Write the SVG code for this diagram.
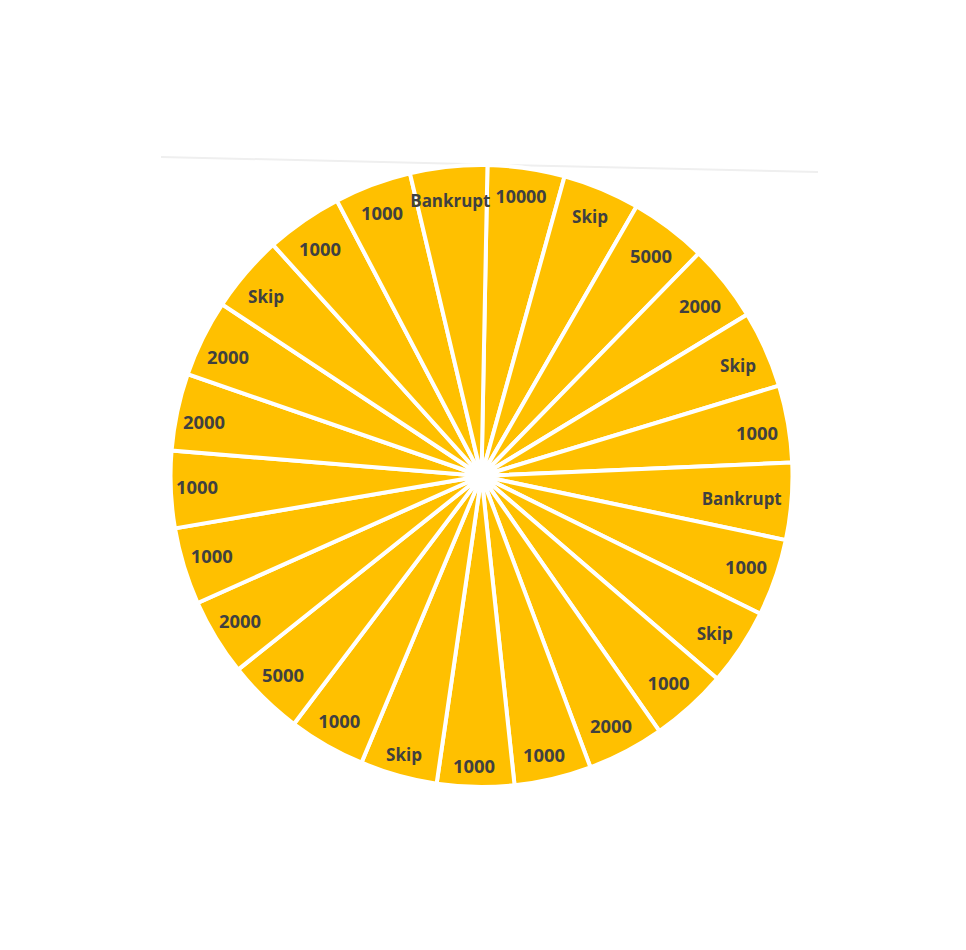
<svg xmlns="http://www.w3.org/2000/svg" width="966" height="950" viewBox="0 0 966 950">
<style>
.s{fill:#FFC000;stroke:#FFFFFF;stroke-width:4;stroke-linejoin:round}
.t{font-family:"Open Sans","Liberation Sans",sans-serif;font-weight:700;font-size:18px;fill:#404040;text-anchor:middle}
</style>
<rect width="966" height="950" fill="#FFFFFF"/>
<line x1="161" y1="157" x2="818" y2="172" stroke="#EFEFEF" stroke-width="2"/>
<g id="wheel">
<g id="slice0"><path class="s" d="M481.5 476 L487.47 165.06 A311 311 0 0 1 564.61 176.31 Z"/><text class="t" x="521" y="202.5" textLength="51" lengthAdjust="spacingAndGlyphs">10000</text></g>
<g id="slice1"><path class="s" d="M481.5 476 L564.61 176.31 A311 311 0 0 1 636.53 206.39 Z"/><text class="t" x="590" y="223.2" textLength="36" lengthAdjust="spacingAndGlyphs">Skip</text></g>
<g id="slice2"><path class="s" d="M481.5 476 L636.53 206.39 A311 311 0 0 1 698.72 253.43 Z"/><text class="t" x="651" y="262.5" textLength="42" lengthAdjust="spacingAndGlyphs">5000</text></g>
<g id="slice3"><path class="s" d="M481.5 476 L698.72 253.43 A311 311 0 0 1 747.22 314.43 Z"/><text class="t" x="700" y="313.2" textLength="42" lengthAdjust="spacingAndGlyphs">2000</text></g>
<g id="slice4"><path class="s" d="M481.5 476 L747.22 314.43 A311 311 0 0 1 779.07 385.59 Z"/><text class="t" x="738" y="372.2" textLength="36" lengthAdjust="spacingAndGlyphs">Skip</text></g>
<g id="slice5"><path class="s" d="M481.5 476 L779.07 385.59 A311 311 0 0 1 792.20 462.43 Z"/><text class="t" x="757" y="439.8" textLength="42" lengthAdjust="spacingAndGlyphs">1000</text></g>
<g id="slice6"><path class="s" d="M481.5 476 L792.20 462.43 A311 311 0 0 1 785.82 540.13 Z"/><text class="t" x="741.7" y="504.5" textLength="80" lengthAdjust="spacingAndGlyphs">Bankrupt</text></g>
<g id="slice7"><path class="s" d="M481.5 476 L785.82 540.13 A311 311 0 0 1 760.31 613.79 Z"/><text class="t" x="746" y="574.2" textLength="42" lengthAdjust="spacingAndGlyphs">1000</text></g>
<g id="slice8"><path class="s" d="M481.5 476 L760.31 613.79 A311 311 0 0 1 717.28 678.80 Z"/><text class="t" x="714.7" y="639.5" textLength="36" lengthAdjust="spacingAndGlyphs">Skip</text></g>
<g id="slice9"><path class="s" d="M481.5 476 L717.28 678.80 A311 311 0 0 1 659.44 731.07 Z"/><text class="t" x="668.5" y="689.5" textLength="42" lengthAdjust="spacingAndGlyphs">1000</text></g>
<g id="slice10"><path class="s" d="M481.5 476 L659.44 731.07 A311 311 0 0 1 590.42 767.30 Z"/><text class="t" x="611" y="733.2" textLength="42" lengthAdjust="spacingAndGlyphs">2000</text></g>
<g id="slice11"><path class="s" d="M481.5 476 L590.42 767.30 A311 311 0 0 1 514.55 785.24 Z"/><text class="t" x="544" y="761.5" textLength="42" lengthAdjust="spacingAndGlyphs">1000</text></g>
<g id="slice12"><path class="s" d="M481.5 476 L514.55 785.24 A311 311 0 0 1 436.60 783.74 Z"/><text class="t" x="474" y="773.2" textLength="42" lengthAdjust="spacingAndGlyphs">1000</text></g>
<g id="slice13"><path class="s" d="M481.5 476 L436.60 783.74 A311 311 0 0 1 361.48 762.70 Z"/><text class="t" x="404" y="760.5" textLength="36" lengthAdjust="spacingAndGlyphs">Skip</text></g>
<g id="slice14"><path class="s" d="M481.5 476 L361.48 762.70 A311 311 0 0 1 293.90 724.05 Z"/><text class="t" x="339.3" y="727.5" textLength="42" lengthAdjust="spacingAndGlyphs">1000</text></g>
<g id="slice15"><path class="s" d="M481.5 476 L293.90 724.05 A311 311 0 0 1 238.11 669.60 Z"/><text class="t" x="283" y="682.2" textLength="42" lengthAdjust="spacingAndGlyphs">5000</text></g>
<g id="slice16"><path class="s" d="M481.5 476 L238.11 669.60 A311 311 0 0 1 197.61 602.99 Z"/><text class="t" x="240" y="628.2" textLength="42" lengthAdjust="spacingAndGlyphs">2000</text></g>
<g id="slice17"><path class="s" d="M481.5 476 L197.61 602.99 A311 311 0 0 1 174.95 528.40 Z"/><text class="t" x="211.7" y="563.2" textLength="42" lengthAdjust="spacingAndGlyphs">1000</text></g>
<g id="slice18"><path class="s" d="M481.5 476 L174.95 528.40 A311 311 0 0 1 171.55 450.52 Z"/><text class="t" x="197" y="493.8" textLength="42" lengthAdjust="spacingAndGlyphs">1000</text></g>
<g id="slice19"><path class="s" d="M481.5 476 L171.55 450.52 A311 311 0 0 1 187.62 374.23 Z"/><text class="t" x="204" y="428.8" textLength="42" lengthAdjust="spacingAndGlyphs">2000</text></g>
<g id="slice20"><path class="s" d="M481.5 476 L187.62 374.23 A311 311 0 0 1 222.16 304.35 Z"/><text class="t" x="228" y="364.2" textLength="42" lengthAdjust="spacingAndGlyphs">2000</text></g>
<g id="slice21"><path class="s" d="M481.5 476 L222.16 304.35 A311 311 0 0 1 273.05 244.88 Z"/><text class="t" x="266" y="303.2" textLength="36" lengthAdjust="spacingAndGlyphs">Skip</text></g>
<g id="slice22"><path class="s" d="M481.5 476 L273.05 244.88 A311 311 0 0 1 336.93 200.64 Z"/><text class="t" x="320" y="255.8" textLength="42" lengthAdjust="spacingAndGlyphs">1000</text></g>
<g id="slice23"><path class="s" d="M481.5 476 L336.93 200.64 A311 311 0 0 1 409.95 173.34 Z"/><text class="t" x="382" y="219.8" textLength="42" lengthAdjust="spacingAndGlyphs">1000</text></g>
<g id="slice24"><path class="s" d="M481.5 476 L409.95 173.34 A311 311 0 0 1 487.47 165.06 Z"/><text class="t" x="450.3" y="207" textLength="80" lengthAdjust="spacingAndGlyphs">Bankrupt</text></g>
</g>
</svg>
